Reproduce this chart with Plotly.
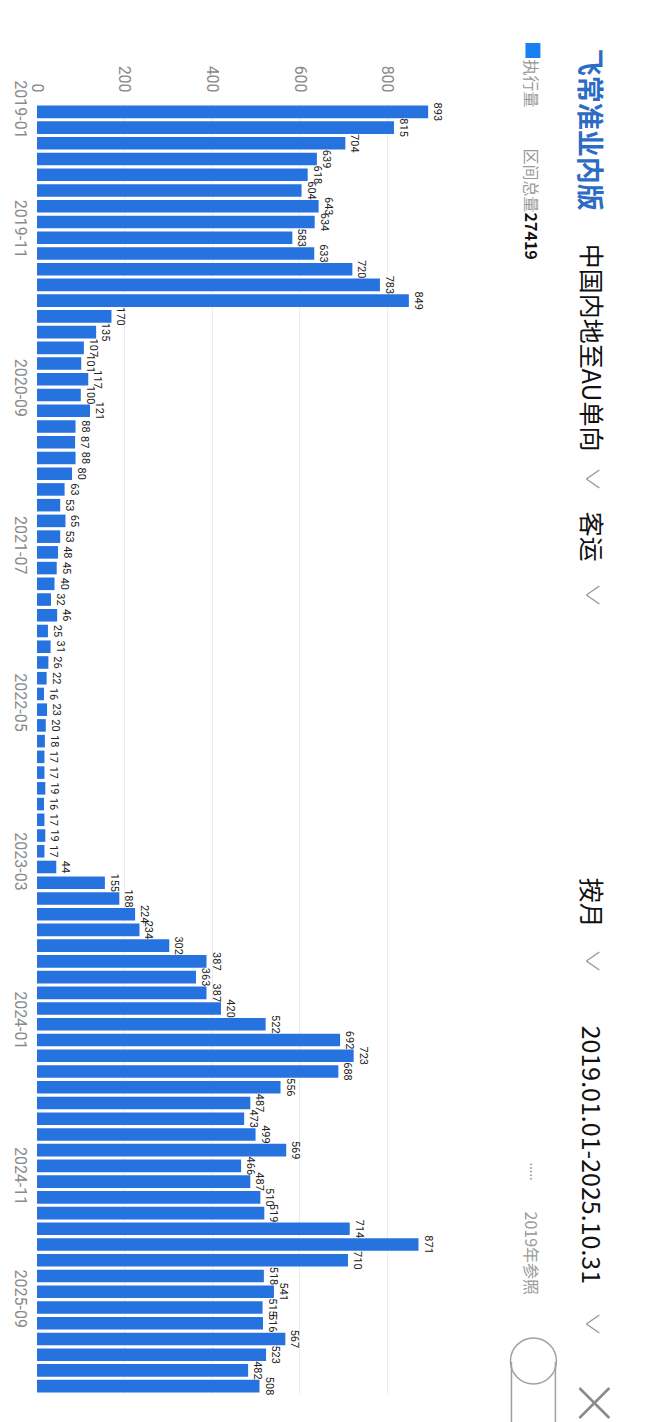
import plotly.graph_objects as go

# ---------------- data ----------------
months = [f"{y}-{m:02d}" for y in range(2019, 2026) for m in range(1, 13)][:82]
values = [893, 815, 704, 639, 618, 604, 643, 634, 583, 633, 720, 783, 849,
          170, 135, 107, 101, 117, 100, 121, 88, 87, 88, 80, 63, 53, 65, 53,
          48, 45, 40, 32, 46, 25, 31, 26, 22, 16, 23, 20, 18, 17, 17, 19, 16,
          17, 19, 17, 44, 155, 188, 224, 234, 302, 387, 363, 387, 420, 522,
          692, 723, 688, 556, 487, 473, 499, 569, 466, 487, 510, 519, 714,
          871, 710, 518, 541, 515, 516, 567, 523, 482, 508]
tick_labels = ["2019-01", "2019-11", "2020-09", "2021-07", "2022-05",
               "2023-03", "2024-01", "2024-11", "2025-09"]
value_ticks = [0, 200, 400, 600, 800]
total_label = "27419"

# ---------------- layout helpers ----------------
W, H = 653, 1422
L, R, T, B = 37, 177.5, 104, 28
PW, PH = W - L - R, H - T - B

def px(x):
    return (x - L) / PW

def py(y):
    return (H - B - y) / PH

idx = list(range(len(months)))
# label positions measured along the axis (in category units)
label_pos = [0, 7.6, 17.7, 27.7, 37.7, 47.8, 57.9, 67.8, 75.6]

fig = go.Figure(go.Bar(
    x=values, y=idx, orientation="h",
    marker=dict(color="#2673e0", line=dict(width=0)),
    text=[str(v) for v in values], textposition="outside",
    textangle=90, constraintext="none", cliponaxis=False,
    textfont=dict(size=11, color="#222", family="Roboto"),
    hovertext=months, hoverinfo="text+x",
))

fig.update_layout(
    width=W, height=H, margin=dict(l=L, r=R, t=T, b=B),
    paper_bgcolor="white", plot_bgcolor="white",
    bargap=0.2, showlegend=False,
    font=dict(family="Roboto, Noto Sans CJK SC", color="#888"),
    xaxis=dict(range=[0, 1000], side="top", tickvals=value_ticks,
               tickangle=90, showgrid=True, gridcolor="#ececec",
               zeroline=False, showline=False, ticks="",
               ticklabelstandoff=8,
               tickfont=dict(size=16, color="#888")),
    yaxis=dict(range=[len(months) - 0.5, -0.5], tickvals=label_pos,
               ticktext=tick_labels, tickangle=90, showgrid=False,
               zeroline=False, showline=False, ticks="",
               ticklabelstandoff=5,
               tickfont=dict(size=16, color="#8a8a8a")),
)

ann = []
def text(x, y, s, size, color, bold=False):
    ann.append(dict(x=px(x), y=py(y), xref="paper", yref="paper",
                    text=f"<b>{s}</b>" if bold else s, textangle=90,
                    showarrow=False, xanchor="center", yanchor="middle",
                    font=dict(size=size, color=color,
                              family="Noto Sans CJK SC, Roboto")))

text(593, 130, "飞常准业内版", 27, "#2c6cc4", bold=True)
text(594, 348, "中国内地至AU单向", 25, "#111")
text(594, 537, "客运", 25, "#111")
text(594, 903, "按月", 25, "#111")
text(594, 1155, "2019.01.01-2025.10.31", 25, "#111")
text(533, 84, "执行量", 16, "#999")
text(533, 204, f"区间总量<span style='color:#111'><b>{total_label}</b></span>", 16, "#999")
text(537, 1172, ".....", 13, "#888")
text(533, 1254, "2019年参照", 16, "#999")
fig.update_layout(annotations=ann)

shapes = []
def line(x0, y0, x1, y1, color, w):
    shapes.append(dict(type="line", xref="paper", yref="paper",
                       x0=px(x0), y0=py(y0), x1=px(x1), y1=py(y1),
                       line=dict(color=color, width=w)))

for cy in [479, 595, 961, 1324]:
    line(600, cy - 9, 587, cy, "#9a9a9a", 1.5)
    line(587, cy, 600, cy + 9, "#9a9a9a", 1.5)

line(580, 1388, 610, 1418, "#8a8a8a", 2.5)
line(580, 1418, 610, 1388, "#8a8a8a", 2.5)

# legend swatch
shapes.append(dict(type="rect", xref="paper", yref="paper",
                   x0=px(526), x1=px(541), y0=py(58), y1=py(43),
                   fillcolor="#1a7ff0", line=dict(width=0)))
# toggle switch
shapes.append(dict(type="circle", xref="paper", yref="paper",
                   x0=px(511), x1=px(557), y0=py(1384), y1=py(1338),
                   line=dict(color="#a0a0a0", width=1.5), fillcolor="white"))
line(512, 1362, 512, 1422, "#a0a0a0", 1.5)
line(556, 1362, 556, 1422, "#a0a0a0", 1.5)

fig.update_layout(shapes=shapes)
fig.write_html("out.html")
